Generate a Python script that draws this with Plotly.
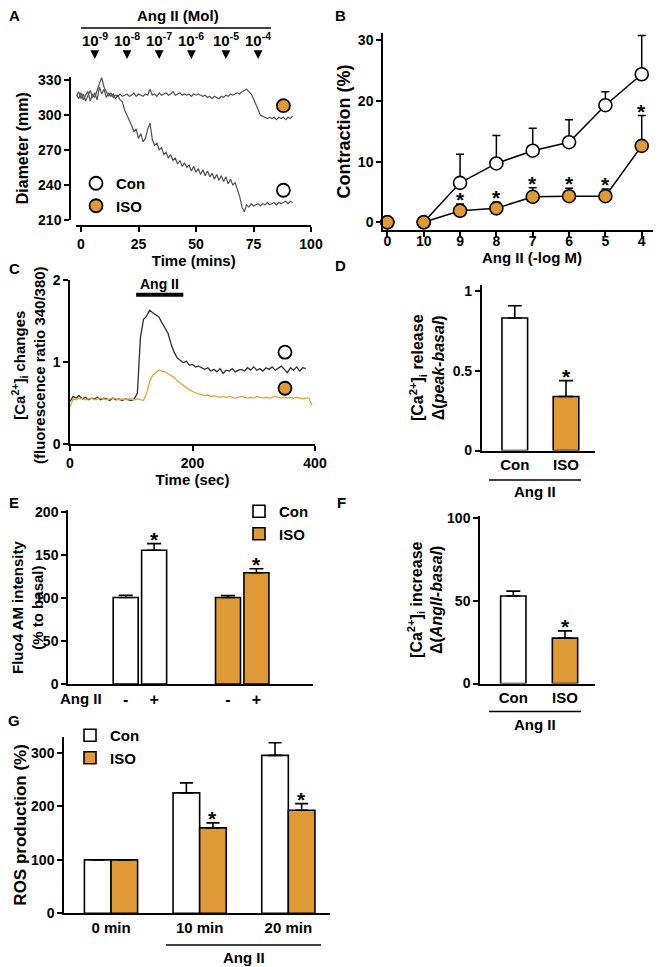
import plotly.graph_objects as go

# ---------------- data ----------------
# A: vessel diameter recordings (minutes, mm)
A_TIME = list(range(-2, 93))
A_CON = [316, 320, 314, 318, 312, 317, 321, 315, 319, 313,
         324, 318, 322, 315, 319, 316, 318, 314, 317, 313,
         311, 304, 300, 295, 291, 286, 288, 280, 284, 277,
         280, 288, 293, 279, 274, 276, 270, 272, 266, 268,
         263, 266, 261, 263, 258, 261, 256, 259, 255, 257,
         252, 256, 251, 254, 249, 253, 248, 252, 247, 250,
         245, 249, 244, 248, 243, 247, 241, 245, 240, 242,
         236, 230, 221, 217, 223, 221, 224, 222, 223, 224,
         222, 224, 223, 225, 223, 224, 225, 223, 225, 224,
         225, 226, 224, 226, 225]
A_ISO = [318, 314, 319, 313, 317, 320, 312, 318, 315, 322,
         327, 332, 324, 320, 316, 319, 315, 317, 316, 318,
         316, 317, 318, 316, 317, 319, 316, 318, 317, 316,
         318, 317, 322, 317, 318, 316, 319, 317, 318, 319,
         317, 318, 320, 317, 318, 319, 317, 318, 317, 318,
         316, 318, 317, 318, 317, 316, 317, 315, 316, 314,
         316, 315, 314, 316, 315, 317, 316, 318, 317, 318,
         319, 318, 320, 321, 322, 320, 318, 314, 309, 304,
         300, 299, 298, 297, 298, 297, 298, 296, 298, 297,
         298, 296, 298, 297, 299]
A_ARROW_T = [6, 20, 34, 48, 63, 77]
A_CONC = ['10<sup>-9</sup>', '10<sup>-8</sup>', '10<sup>-7</sup>',
          '10<sup>-6</sup>', '10<sup>-5</sup>', '10<sup>-4</sup>']
A_TAG_T = 88
A_TAG_CON = 235.5
A_TAG_ISO = 308

# B: contraction dose-response
B_LABELS = ['0', '10', '9', '8', '7', '6', '5', '4']
B_CON = [0, 0, 6.5, 9.7, 11.8, 13.2, 19.3, 24.4]
B_CON_SE = [0, 0, 4.7, 4.6, 3.7, 3.7, 2.2, 6.4]
B_ISO = [0, 0, 1.9, 2.3, 4.2, 4.3, 4.3, 12.6]
B_ISO_SE = [0, 0, 1.1, 1.0, 1.5, 1.3, 1.2, 5.0]
B_SIG = [False, False, True, True, True, True, True, True]

# C: Ca2+ traces (sec, ratio)
C_T_CON = list(range(0, 390, 5))
C_CON = [0.52, 0.58, 0.56, 0.59, 0.55, 0.57, 0.54, 0.56, 0.55, 0.57,
         0.54, 0.56, 0.55, 0.53, 0.56, 0.54, 0.55, 0.53, 0.55, 0.54,
         0.53, 0.55, 0.62, 1.30, 1.52, 1.56, 1.63, 1.60, 1.58, 1.55,
         1.48, 1.42, 1.35, 1.22, 1.12, 1.05, 1.02, 0.99, 1.01, 0.96,
         0.97, 0.94, 0.95, 0.93, 0.91, 0.93, 0.89, 0.91, 0.88, 0.92,
         0.86, 0.90, 0.89, 0.92, 0.88, 0.90, 0.91, 0.89, 0.93, 0.90,
         0.94, 0.90, 0.92, 0.89, 0.93, 0.91, 0.94, 0.90, 0.92, 0.95,
         0.91, 0.87, 0.93, 0.90, 0.94, 0.89, 0.93, 0.92]
C_T_ISO = list(range(0, 400, 5))
C_ISO = [0.45, 0.55, 0.54, 0.56, 0.55, 0.54, 0.55, 0.56, 0.54, 0.55,
         0.56, 0.55, 0.54, 0.55, 0.56, 0.55, 0.54, 0.55, 0.54, 0.55,
         0.55, 0.54, 0.55, 0.54, 0.53, 0.62, 0.76, 0.84, 0.87, 0.90,
         0.89, 0.88, 0.86, 0.84, 0.81, 0.77, 0.74, 0.71, 0.69, 0.66,
         0.64, 0.62, 0.61, 0.60, 0.59, 0.60, 0.58, 0.59, 0.58, 0.57,
         0.58, 0.57, 0.58, 0.57, 0.56, 0.57, 0.58, 0.57, 0.56, 0.57,
         0.56, 0.58, 0.57, 0.56, 0.57, 0.56, 0.57, 0.58, 0.57, 0.56,
         0.57, 0.56, 0.57, 0.56, 0.57, 0.56, 0.55, 0.56, 0.56, 0.47]
C_ANG = [108, 185]
C_ANG_LEVEL = 1.82
C_TAG_T = 351
C_TAG_CON = 1.12
C_TAG_ISO = 0.68

# D: Ca2+ release
D_GROUPS = ['Con', 'ISO']
D_MEAN = [0.833, 0.339]
D_SE = [0.077, 0.10]
D_SIG = [False, True]

# E: Fluo4 AM intensity
E_ANG = ['-', '+']
E_CON = [100.5, 155.3]
E_CON_SE = [2.5, 7.7]
E_ISO = [100.5, 129.2]
E_ISO_SE = [2.3, 4.6]
E_CON_SIG = [False, True]
E_ISO_SIG = [False, True]

# F: Ca2+ increase
F_GROUPS = ['Con', 'ISO']
F_MEAN = [53, 27.5]
F_SE = [3.0, 4.4]
F_SIG = [False, True]

# G: ROS production
G_CATS = ['0 min', '10 min', '20 min']
G_CON = [100, 225.5, 295.6]
G_CON_SE = [0, 18.6, 23.6]
G_ISO = [100, 160, 193]
G_ISO_SE = [0, 9.3, 12.4]
G_ISO_SIG = [False, True, True]

# ---------------- style / layout helpers ----------------
# the page body keeps its default 8px margin: the figure starts 8px in from the window corner
OFF = 8
FW, FH = 664, 967
ORANGE = '#E09A35'
ORANGE_LINE = '#E8A23C'
FONT = 'Liberation Sans, Arial, Helvetica, sans-serif'


def X(p):
    return (p - OFF) / FW


def Y(p):
    return 1 - (p - OFF) / FH


def axis(**kw):
    d = dict(showline=True, linecolor='black', linewidth=1.5, ticks='outside',
             ticklen=5, tickwidth=1.5, tickcolor='black', showgrid=False,
             zeroline=False, tickfont=dict(size=14), fixedrange=True, automargin=False)
    d.update(kw)
    return d


fig = go.Figure()
annotations = []
shapes = []


def star(x, y, xref, yref):
    annotations.append(dict(x=x, y=y, xref=xref, yref=yref, text='*', showarrow=False,
                            yanchor='bottom', yshift=-9, font=dict(size=21)))


def label(px, py, text, size=15, angle=0):
    annotations.append(dict(x=X(px), y=Y(py), xref='paper', yref='paper', text=text,
                            showarrow=False, xanchor='center', yanchor='middle',
                            textangle=angle, font=dict(size=size)))


# ---------- Panel A ----------
fig.add_trace(go.Scatter(x=A_TIME, y=A_CON, mode='lines', line=dict(color='#505050', width=1.2),
                         showlegend=False, xaxis='x', yaxis='y'))
fig.add_trace(go.Scatter(x=A_TIME, y=A_ISO, mode='lines', line=dict(color='#505050', width=1.2),
                         showlegend=False, xaxis='x', yaxis='y'))
fig.add_trace(go.Scatter(x=[A_TAG_T], y=[A_TAG_CON], mode='markers', name='Con',
                         marker=dict(size=13, color='white', line=dict(color='black', width=1.8)),
                         cliponaxis=False, legend='legend', xaxis='x', yaxis='y'))
fig.add_trace(go.Scatter(x=[A_TAG_T], y=[A_TAG_ISO], mode='markers', name='ISO',
                         marker=dict(size=13, color=ORANGE, line=dict(color='black', width=1.8)),
                         cliponaxis=False, legend='legend', xaxis='x', yaxis='y'))
for t, c in zip(A_ARROW_T, A_CONC):
    annotations.append(dict(x=t, xref='x', y=Y(59), yref='paper', text=c, showarrow=True,
                            ax=0, ay=-19, arrowhead=2, arrowsize=1.1, arrowwidth=1.6,
                            arrowcolor='black', font=dict(size=15)))
label(178, 15, 'Ang II (Mol)')
shapes.append(dict(type='line', xref='paper', yref='paper', x0=X(81), x1=X(271),
                   y0=Y(28), y1=Y(28), line=dict(color='black', width=1.5)))

# ---------- Panel B ----------
idx = list(range(len(B_LABELS)))
for vals, se, fill in [(B_CON, B_CON_SE, 'white'), (B_ISO, B_ISO_SE, ORANGE)]:
    fig.add_trace(go.Scatter(x=idx[1:], y=vals[1:], mode='lines', line=dict(color='black', width=1.5),
                             showlegend=False, xaxis='x2', yaxis='y2'))
    fig.add_trace(go.Scatter(x=idx, y=vals, mode='markers',
                             marker=dict(size=13, color=fill, line=dict(color='black', width=1.6)),
                             error_y=dict(type='data', symmetric=False, array=se,
                                          arrayminus=[0] * len(se), color='black',
                                          thickness=1.5, width=4),
                             cliponaxis=False, showlegend=False, xaxis='x2', yaxis='y2'))
for i, s in enumerate(B_SIG):
    if s:
        star(i, B_ISO[i] + B_ISO_SE[i], 'x2', 'y2')
label(532, 257, 'Ang II (-log M)')

# ---------- Panel C ----------
fig.add_trace(go.Scatter(x=C_T_CON, y=C_CON, mode='lines', line=dict(color='#2f2f2f', width=1.3),
                         showlegend=False, xaxis='x3', yaxis='y3'))
fig.add_trace(go.Scatter(x=C_T_ISO, y=C_ISO, mode='lines', line=dict(color=ORANGE_LINE, width=1.3),
                         showlegend=False, xaxis='x3', yaxis='y3'))
fig.add_trace(go.Scatter(x=[C_TAG_T, C_TAG_T], y=[C_TAG_CON, C_TAG_ISO], mode='markers',
                         marker=dict(size=13, color=['white', ORANGE],
                                     line=dict(color='black', width=1.8)),
                         cliponaxis=False, showlegend=False, xaxis='x3', yaxis='y3'))
shapes.append(dict(type='line', xref='x3', yref='y3', x0=C_ANG[0], x1=C_ANG[1],
                   y0=C_ANG_LEVEL, y1=C_ANG_LEVEL, line=dict(color='black', width=4)))
annotations.append(dict(x=sum(C_ANG) / 2, y=C_ANG_LEVEL, xref='x3', yref='y3', text='Ang II',
                        showarrow=False, yanchor='bottom', yshift=1, font=dict(size=14)))
CA = '[Ca<sup>2+</sup>]<sub>i</sub>'
label(28, 365, CA + ' changes<br>(fluorescence ratio 340/380)', size=15, angle=-90)

# ---------- Panel D ----------
fig.add_trace(go.Bar(x=[0, 1], y=D_MEAN, width=0.5,
                     marker=dict(color=['white', ORANGE], line=dict(color='black', width=1.6)),
                     error_y=dict(type='data', symmetric=False, array=D_SE, arrayminus=[0, 0],
                                  color='black', thickness=1.6, width=7),
                     showlegend=False, xaxis='x4', yaxis='y4'))
for i, s in enumerate(D_SIG):
    if s:
        star(i, D_MEAN[i] + D_SE[i], 'x4', 'y4')

# ---------- Panel E ----------
E_GROUP_STEP = 3.6
e_con_x = [i for i in range(len(E_ANG))]
e_iso_x = [i + E_GROUP_STEP for i in range(len(E_ANG))]
fig.add_trace(go.Bar(x=e_con_x, y=E_CON, width=0.88, name='Con',
                     marker=dict(color='white', line=dict(color='black', width=1.6)),
                     error_y=dict(type='data', symmetric=False, array=E_CON_SE, arrayminus=[0, 0],
                                  color='black', thickness=1.6, width=7),
                     legend='legend2', xaxis='x5', yaxis='y5'))
fig.add_trace(go.Bar(x=e_iso_x, y=E_ISO, width=0.88, name='ISO',
                     marker=dict(color=ORANGE, line=dict(color='black', width=1.6)),
                     error_y=dict(type='data', symmetric=False, array=E_ISO_SE, arrayminus=[0, 0],
                                  color='black', thickness=1.6, width=7),
                     legend='legend2', xaxis='x5', yaxis='y5'))
for xs, m, se, sig in [(e_con_x, E_CON, E_CON_SE, E_CON_SIG), (e_iso_x, E_ISO, E_ISO_SE, E_ISO_SIG)]:
    for i, s in enumerate(sig):
        if s:
            star(xs[i], m[i] + se[i], 'x5', 'y5')
label(81, 698, 'Ang II')
label(27, 608, 'Fluo4 AM intensity<br>(% to basal)', size=15, angle=-90)

# ---------- Panel F ----------
fig.add_trace(go.Bar(x=[0, 1], y=F_MEAN, width=0.49,
                     marker=dict(color=['white', ORANGE], line=dict(color='black', width=1.6)),
                     error_y=dict(type='data', symmetric=False, array=F_SE, arrayminus=[0, 0],
                                  color='black', thickness=1.6, width=7),
                     showlegend=False, xaxis='x6', yaxis='y6'))
for i, s in enumerate(F_SIG):
    if s:
        star(i, F_MEAN[i] + F_SE[i], 'x6', 'y6')

# ---------- Panel G ----------
g_x = list(range(len(G_CATS)))
fig.add_trace(go.Bar(x=g_x, y=G_CON, width=0.30, offset=-0.30, name='Con',
                     marker=dict(color='white', line=dict(color='black', width=1.6)),
                     error_y=dict(type='data', symmetric=False, array=G_CON_SE,
                                  arrayminus=[0] * 3, color='black', thickness=1.6, width=6.5),
                     legend='legend3', xaxis='x7', yaxis='y7'))
fig.add_trace(go.Bar(x=g_x, y=G_ISO, width=0.30, offset=0.0, name='ISO',
                     marker=dict(color=ORANGE, line=dict(color='black', width=1.6)),
                     error_y=dict(type='data', symmetric=False, array=G_ISO_SE,
                                  arrayminus=[0] * 3, color='black', thickness=1.6, width=6.5),
                     legend='legend3', xaxis='x7', yaxis='y7'))
for i, s in enumerate(G_ISO_SIG):
    if s:
        star(i + 0.15, G_ISO[i] + G_ISO_SE[i], 'x7', 'y7')

# ---------- "Ang II" brackets under D, F, G ----------
for (x0, x1, yl, yt) in [(489, 581, 480, 491), (489, 581, 711.5, 724), (166, 321, 945, 957)]:
    shapes.append(dict(type='line', xref='paper', yref='paper', x0=X(x0), x1=X(x1),
                       y0=Y(yl), y1=Y(yl), line=dict(color='black', width=1.5)))
    label((x0 + x1) / 2, yt, 'Ang II')

# ---------- panel letters ----------
for lab, px, py in [('A', 14, 15), ('B', 340, 15), ('C', 14, 268), ('D', 340, 265),
                    ('E', 14, 502), ('F', 341, 502), ('G', 14, 720)]:
    label(px, py, lab)

legend_common = dict(xanchor='left', yanchor='top', bgcolor='rgba(0,0,0,0)',
                     font=dict(size=15), itemwidth=30, tracegroupgap=0, traceorder='normal')

fig.update_layout(
    width=FW, height=FH, margin=dict(l=0, r=0, t=0, b=0, autoexpand=False),
    paper_bgcolor='white', plot_bgcolor='white',
    font=dict(family=FONT, size=14, color='black', weight='bold'),
    barmode='overlay',
    # A
    xaxis=axis(domain=[X(76.4), X(311)], range=[-2, 100], tickvals=[0, 25, 50, 75, 100],
               anchor='free', position=Y(226),
               title=dict(text='Time (mins)', font=dict(size=15), standoff=3)),
    yaxis=axis(domain=[Y(220), Y(76.5)], range=[210, 333], tickvals=[210, 240, 270, 300, 330],
               anchor='free', position=X(70),
               title=dict(text='Diameter (mm)', font=dict(size=16), standoff=4)),
    # B
    xaxis2=axis(domain=[X(383), X(653)], range=[-0.12, 7.31], tickvals=idx, ticktext=B_LABELS,
                anchor='y2', ticklabelstandoff=-8),
    yaxis2=axis(domain=[Y(230), Y(33)], range=[-1.27, 31.2], tickvals=[0, 10, 20, 30],
                anchor='x2', title=dict(text='Contraction (%)', font=dict(size=18), standoff=3)),
    # C
    xaxis3=axis(domain=[X(70), X(315)], range=[0, 400], tickvals=[0, 200, 400], anchor='y3',
                title=dict(text='Time (sec)', font=dict(size=15), standoff=4)),
    yaxis3=axis(domain=[Y(444), Y(280)], range=[0, 2], tickvals=[0, 1, 2], anchor='x3'),
    # D
    xaxis4=axis(domain=[X(481.7), X(595)], range=[-0.646, 1.566], tickvals=[0, 1],
                ticktext=D_GROUPS, ticks='', anchor='y4', tickfont=dict(size=15)),
    yaxis4=axis(domain=[Y(450.5), Y(285)], range=[0, 1.04], tickvals=[0, 0.5, 1],
                ticktext=['0', '0.5', '1'], anchor='x4',
                title=dict(text=CA + ' release<br>Δ(<i>peak-basal</i>)', font=dict(size=16),
                           standoff=4)),
    # E
    xaxis5=axis(domain=[X(68), X(313)], range=[-2.03, 6.59], tickvals=e_con_x + e_iso_x,
                ticktext=E_ANG + E_ANG, ticks='', anchor='y5', tickfont=dict(size=16)),
    yaxis5=axis(domain=[Y(684), Y(510)], range=[0, 202], tickvals=[0, 50, 100, 150, 200],
                anchor='x5'),
    # F
    xaxis6=axis(domain=[X(480), X(595)], range=[-0.644, 1.58], tickvals=[0, 1],
                ticktext=F_GROUPS, ticks='', anchor='y6', tickfont=dict(size=15)),
    yaxis6=axis(domain=[Y(683.5), Y(516)], range=[0, 101.5], tickvals=[0, 50, 100], anchor='x6',
                title=dict(text=CA + ' increase<br>Δ(<i>AngII-basal</i>)', font=dict(size=16),
                           standoff=0)),
    # G
    xaxis7=axis(domain=[X(64), X(330)], range=[-0.53, 2.47], tickvals=g_x, ticktext=G_CATS,
                ticks='', anchor='y7', tickfont=dict(size=15)),
    yaxis7=axis(domain=[Y(913.3), Y(736.5)], range=[0, 331], tickvals=[0, 100, 200, 300],
                anchor='x7',
                title=dict(text='ROS production (%)', font=dict(size=17), standoff=0)),
    legend=dict(x=X(76), y=Y(167), **legend_common),
    legend2=dict(x=X(239), y=Y(495), **legend_common),
    legend3=dict(x=X(70), y=Y(719), **legend_common),
    annotations=annotations,
    shapes=shapes,
)

fig.write_html('out.html')
